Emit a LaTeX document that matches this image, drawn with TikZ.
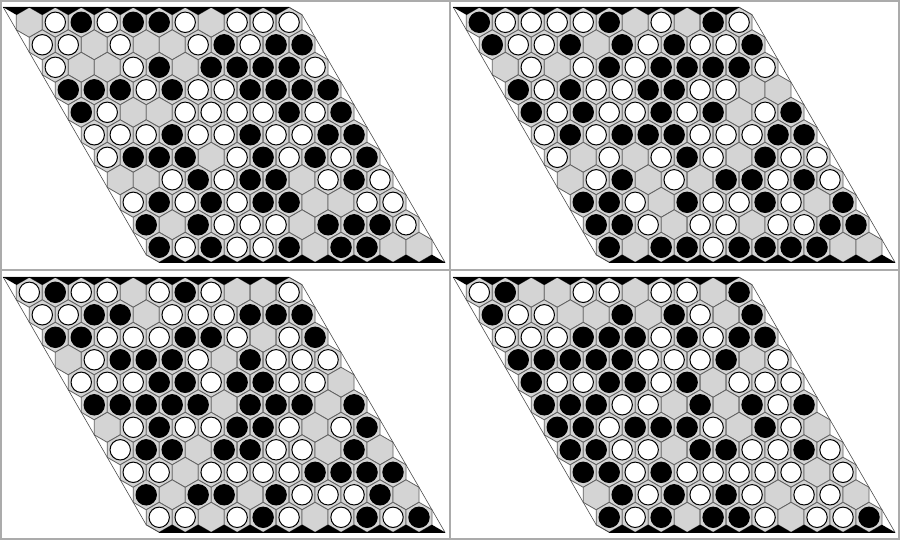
\documentclass[tikz,border=0pt]{standalone}
\tikzset{
  hexcell/.style={fill=black!17, draw=black!62, line width=0.8pt},
  stoneE/.style={},
  stoneW/.style={fill=white, draw=black, line width=1pt},
  stoneB/.style={fill=black, draw=black, line width=1pt},
  edgeline/.style={draw=black!70, line width=0.6pt},
  blackedge/.style={draw=black, line width=1.3pt},
  panelline/.style={draw=black!33, line width=2pt},
}
\newcommand{\hexboard}[3]{%
  \foreach \row [count=\i from 0] in {#3} {
    \foreach \c [count=\j from 0] in \row {
      \pgfmathsetmacro\cx{#1+29.3+25.98*\j+12.99*\i}
      \pgfmathsetmacro\cy{#2+22.3+22.5*\i}
      \draw[hexcell] (\cx,\cy-15) -- ++(12.99,7.5) -- ++(0,15) -- ++(-12.99,7.5) -- ++(-12.99,-7.5) -- ++(0,-15) -- cycle;
      \path[stone\c] (\cx,\cy) circle (10.2);
    }
  }
  % outline
  \draw[edgeline] (#1+3.32,#2+7.3) -- (#1+289.1,#2+7.3) -- (#1+302.09,#2+14.8) -- (#1+444.98,#2+262.3) -- (#1+159.2,#2+262.3) -- (#1+146.21,#2+254.8) -- cycle;
  % top black triangles
  \fill[black] (#1+3.32,#2+7.3) -- (#1+289.1,#2+7.3)
    \foreach \j in {10,...,0} { -- (#1+29.3+25.98*\j,#2+7.3) -- (#1+29.3+25.98*\j-12.99,#2+14.8) } -- cycle;
  \draw[blackedge] (#1+3.32,#2+7.3) -- (#1+289.1,#2+7.3);
  % bottom black triangles
  \fill[black] (#1+444.98,#2+262.3) -- (#1+159.2,#2+262.3)
    \foreach \j in {0,...,10} { -- (#1+159.2+25.98*\j,#2+262.3) -- (#1+159.2+25.98*\j+12.99,#2+254.8) } -- cycle;
  \draw[blackedge] (#1+159.2,#2+262.3) -- (#1+444.98,#2+262.3);
}
\begin{document}
\begin{tikzpicture}[x=1pt,y=-1pt]
\useasboundingbox (0,0) rectangle (900,540);
\fill[white] (0,0) rectangle (900,540);

\hexboard{0}{0}{
{E,W,B,W,B,B,W,E,W,W,W},
{W,W,E,W,E,E,W,B,W,B,B},
{W,E,E,W,B,E,B,B,B,B,W},
{B,B,B,W,B,W,W,B,B,B,B},
{B,W,E,E,W,W,W,W,B,W,B},
{W,W,W,B,W,W,B,W,W,B,B},
{W,B,B,B,E,W,B,W,B,W,B},
{E,E,W,B,W,B,B,E,W,B,W},
{W,B,W,B,W,B,B,E,E,W,W},
{B,E,B,W,W,W,E,B,B,B,W},
{B,W,B,W,W,B,E,B,B,E,E}}

\hexboard{450}{0}{
{B,W,W,W,W,B,E,W,E,B,W},
{B,W,W,B,E,B,W,B,W,W,B},
{E,W,E,W,B,W,B,B,B,B,W},
{B,W,B,W,W,B,B,W,W,E,E},
{B,W,B,W,W,B,W,B,E,W,B},
{W,B,W,B,B,B,W,W,W,B,B},
{W,E,W,E,W,B,W,E,B,W,W},
{E,W,B,E,W,E,B,B,W,B,W},
{B,B,W,E,B,W,W,B,W,E,B},
{B,B,W,E,W,W,E,W,W,B,B},
{B,E,B,B,W,B,B,B,B,E,E}}

\hexboard{0}{270}{
{W,B,W,W,E,W,B,W,E,E,W},
{W,W,B,B,E,W,W,W,B,B,B},
{B,B,W,W,W,B,B,W,E,W,B},
{E,W,B,B,B,W,E,B,W,W,W},
{W,W,W,B,B,W,B,B,W,W,E},
{B,B,B,B,B,E,B,B,B,E,B},
{E,W,B,W,W,B,B,W,E,W,B},
{W,B,B,E,B,B,W,W,E,B,E},
{W,W,E,W,W,W,W,B,B,B,B},
{B,E,B,B,E,B,W,W,W,B,E},
{W,W,E,W,B,W,E,W,B,W,B}}

\hexboard{450}{270}{
{W,B,E,E,W,W,E,W,W,E,B},
{B,W,W,E,E,B,E,B,W,E,B},
{W,W,W,B,B,B,W,B,W,B,B},
{B,B,B,B,B,W,W,W,B,E,W},
{B,W,W,B,B,W,B,E,W,W,W},
{B,B,B,W,W,E,B,E,B,W,B},
{B,B,W,B,B,B,W,E,B,W,E},
{B,B,W,W,E,B,B,W,W,B,W},
{B,B,W,B,W,W,W,W,W,E,W},
{E,B,W,B,W,B,W,E,W,W,E},
{B,W,B,E,B,B,W,E,W,W,B}}

\draw[panelline] (1,1) rectangle (899,539);
\draw[panelline] (450,0) -- (450,540);
\draw[panelline] (0,270) -- (900,270);
\end{tikzpicture}
\end{document}
